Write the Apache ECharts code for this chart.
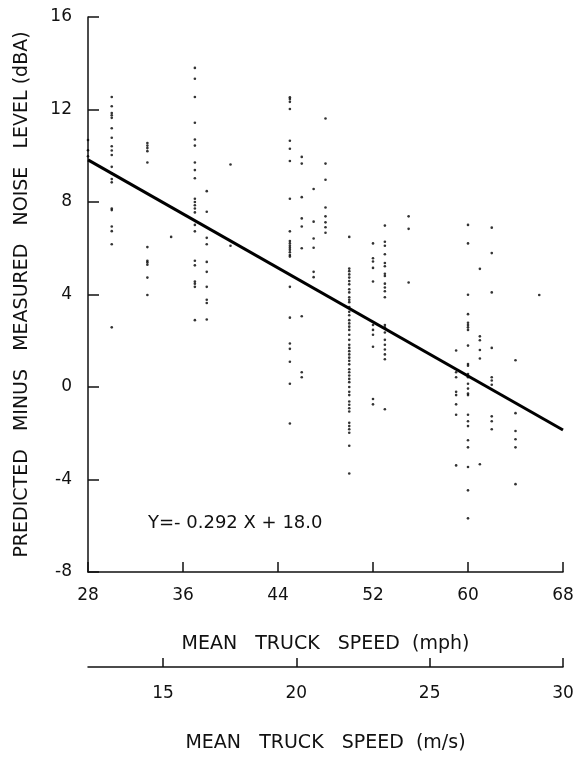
<!DOCTYPE html>
<html>
<head>
<meta charset="utf-8">
<script src="https://cdn.jsdelivr.net/npm/echarts@6/dist/echarts.min.js"></script>
<style>
html,body{margin:0;padding:0;background:#fff;}
#c{width:579px;height:758px;}
</style>
</head>
<body>
<div id="c"></div>
<script>
// ---- data ----
const xTickValues = [28, 36, 44, 52, 60, 68];
const yTickValues = [-8, -4, 0, 4, 8, 12, 16];
const msTickValues = [15, 20, 25, 30];

const speeds = [28, 30, 33, 35, 37, 38, 40, 45, 46, 47, 48, 50, 52, 53, 55, 59, 60, 61, 62, 64, 66];
const pts28 = [10.68, 10.24, 9.98];
const pts30 = [12.54, 12.14, 11.85, 11.75, 11.64, 11.19, 10.78, 10.41, 10.23, 10.03, 9.52, 9.24, 8.99, 8.85, 7.72, 7.65, 6.94, 6.74, 6.17, 2.58];
const pts33 = [10.55, 10.44, 10.33, 10.2, 9.71, 6.05, 5.46, 5.39, 5.29, 4.73, 3.98];
const pts35 = [6.49];
const pts37 = [13.8, 13.33, 12.54, 11.43, 10.7, 10.44, 9.71, 9.38, 9.03, 8.14, 8.0, 7.86, 7.72, 7.55, 7.01, 6.73, 5.46, 5.26, 4.56, 4.47, 4.33, 2.89];
const pts38 = [8.47, 7.58, 6.45, 6.17, 5.41, 4.98, 4.33, 3.77, 3.63, 2.92];
const pts40 = [9.62, 6.11];
const pts45 = [12.53, 12.45, 12.33, 12.02, 10.65, 10.3, 9.77, 8.14, 6.73, 6.31, 6.21, 6.11, 6.02, 5.93, 5.83, 5.71, 5.64, 4.33, 3.0, 1.88, 1.65, 1.09, 0.14, -1.58];
const pts46 = [9.95, 9.66, 8.21, 7.29, 6.94, 6.0, 3.06, 0.64, 0.42];
const pts47 = [8.56, 7.15, 6.42, 6.02, 4.98, 4.75];
const pts48 = [11.61, 9.66, 8.96, 7.76, 7.38, 7.12, 6.91, 6.67];
const pts50 = [6.49, 5.12, 5.01, 4.87, 4.73, 4.58, 4.44, 4.23, 4.09, 3.88, 3.77, 3.67, 3.46, 3.25, 3.10, 2.89, 2.75, 2.61, 2.47, 2.26, 2.04, 1.83, 1.69, 1.55, 1.41, 1.27, 1.13, 0.98, 0.77, 0.64, 0.5, 0.35, 0.21, 0.0, -0.21, -0.35, -0.63, -0.77, -0.92, -1.06, -1.55, -1.69, -1.83, -1.98, -2.54, -3.74];
const pts52 = [6.21, 5.57, 5.43, 5.15, 4.56, 2.68, 2.47, 2.26, 1.74, -0.52, -0.75];
const pts53 = [6.98, 6.28, 6.11, 5.74, 5.36, 5.22, 4.9, 4.8, 4.47, 4.3, 4.14, 3.88, 2.68, 2.58, 2.36, 2.04, 1.83, 1.62, 1.41, 1.2, -0.96];
const pts55 = [7.38, 6.84, 4.52];
const pts59 = [1.58, 0.64, 0.42, -0.21, -0.35, -0.75, -1.2, -3.39];
const pts60 = [7.01, 6.21, 3.99, 3.15, 2.78, 2.68, 2.58, 2.47, 1.79, 0.99, 0.92, 0.56, 0.42, 0.14, -0.07, -0.28, -0.35, -1.2, -1.48, -1.69, -2.3, -2.61, -3.46, -4.47, -5.68];
const pts61 = [5.11, 2.19, 2.02, 1.6, 1.23, -3.34];
const pts62 = [6.89, 5.79, 4.09, 1.69, 0.42, 0.28, 0.1, -1.27, -1.48, -1.83];
const pts64 = [1.16, -1.13, -1.9, -2.26, -2.61, -4.2];
const pts66 = [3.98];

// regression line end points (Y = -0.292 X + 18.0)
const fitX = [28, 68];
const fitY = [9.82, -1.86];
const fitLabel = 'Y=- 0.292 X + 18.0';

const yTitle = 'PREDICTED   MINUS   MEASURED   NOISE   LEVEL (dBA)';
const xTitle = 'MEAN   TRUCK   SPEED  (mph)';
const msTitle = 'MEAN   TRUCK   SPEED  (m/s)';

// ---- build ----
const columns = [pts28, pts30, pts33, pts35, pts37, pts38, pts40, pts45, pts46, pts47, pts48, pts50, pts52, pts53, pts55, pts59, pts60, pts61, pts62, pts64, pts66];
const scatterData = [];
columns.forEach((col, i) => col.forEach(v => scatterData.push([speeds[i], v])));
const fitData = fitX.map((x, i) => [x, fitY[i]]);

const FONT = 'DejaVu Sans';
const INK = '#111';

const chart = echarts.init(document.getElementById('c'), null, {renderer: 'canvas'});
chart.setOption({
  animation: false,
  backgroundColor: '#fff',
  grid: {left: 88, right: 16, top: 17, bottom: 174, containLabel: false},
  xAxis: [{
    type: 'value', min: 28, max: 68, gridIndex: 0, position: 'bottom',
    axisLine: {show: true, onZero: false, lineStyle: {color: INK, width: 1.5}},
    axisTick: {show: true, inside: true, length: 10, customValues: xTickValues, lineStyle: {color: INK, width: 1.5}},
    axisLabel: {show: true, customValues: xTickValues, margin: 15, fontFamily: FONT, fontSize: 17, color: INK},
    splitLine: {show: false},
    name: xTitle, nameLocation: 'middle', nameGap: 63,
    nameTextStyle: {fontFamily: FONT, fontSize: 19, color: INK}
  }, {
    type: 'value', min: 12.19, max: 30, gridIndex: 0, position: 'bottom', offset: 95,
    axisLine: {show: true, onZero: false, lineStyle: {color: INK, width: 1.5}},
    axisTick: {show: true, inside: true, length: 9, customValues: msTickValues, lineStyle: {color: INK, width: 1.5}},
    axisLabel: {show: true, customValues: msTickValues, margin: 18, fontFamily: FONT, fontSize: 17, color: INK},
    splitLine: {show: false},
    name: msTitle, nameLocation: 'middle', nameGap: 67,
    nameTextStyle: {fontFamily: FONT, fontSize: 19, color: INK}
  }],
  yAxis: {
    type: 'value', min: -8, max: 16, interval: 4,
    axisLine: {show: true, onZero: false, lineStyle: {color: INK, width: 1.5}},
    axisTick: {show: true, inside: true, length: 11, lineStyle: {color: INK, width: 1.5}},
    axisLabel: {show: true, margin: 16, fontFamily: FONT, fontSize: 17, color: INK},
    splitLine: {show: false},
    name: yTitle, nameLocation: 'middle', nameRotate: 90, nameGap: 56,
    nameTextStyle: {fontFamily: FONT, fontSize: 19, color: INK}
  },
  series: [{
    type: 'scatter', xAxisIndex: 0, yAxisIndex: 0,
    data: scatterData, symbol: 'circle', symbolSize: 2.6,
    itemStyle: {color: '#000'}, silent: true
  }, {
    type: 'line', xAxisIndex: 0, yAxisIndex: 0,
    data: fitData, symbol: 'none',
    lineStyle: {color: '#000', width: 3}, silent: true
  }],
  graphic: [{
    type: 'text', left: 148, top: 514,
    style: {text: fitLabel, font: '18px "DejaVu Sans"', fill: INK}
  }]
});
</script>
</body>
</html>
